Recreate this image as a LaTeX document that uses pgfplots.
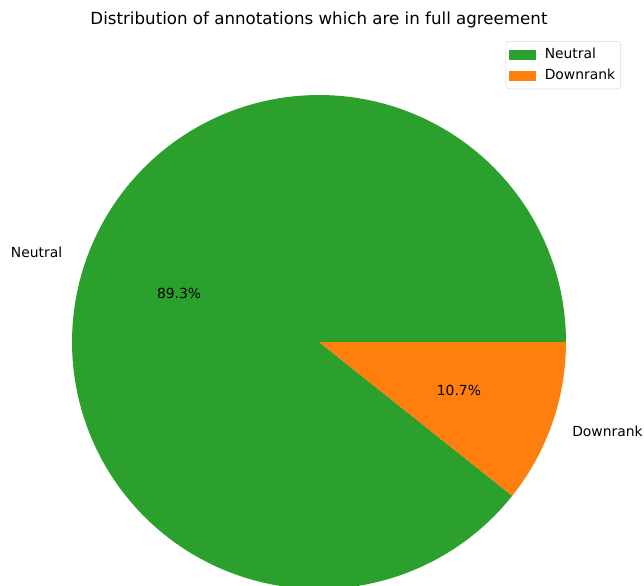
\documentclass[border=0pt]{standalone}
\usepackage{pgfplots}
\usepackage{pgfplotstable}
\pgfplotsset{compat=1.18}
\usepackage{fontspec}
\setmainfont{DejaVu Sans}

\definecolor{pgreen}{HTML}{2CA02C}
\definecolor{porange}{HTML}{FF7F0E}

% share of each slice, in percent
\pgfplotstableread{
label value
Neutral 89.3
Downrank 10.7
}\piedata
\pgfplotstablegetelem{0}{value}\of\piedata \let\vA\pgfplotsretval
\pgfplotstablegetelem{1}{value}\of\piedata \let\vB\pgfplotsretval
\pgfmathsetmacro\aEnd{3.6*\vA}
\pgfmathsetmacro\mA{\aEnd/2}
\pgfmathsetmacro\mB{\aEnd+1.8*\vB}

\begin{document}%
\begin{tikzpicture}
\begin{axis}[
    scale only axis,
    width=463.68pt, height=421.2pt,
    xmin=-1.2915, xmax=1.3158,
    ymin=-0.9838, ymax=1.3846,
    hide axis,
    clip=true,
    legend image code/.code={%
        \fill[#1, sharp corners] (0pt,-3.6pt) rectangle (20pt,3.6pt);
        \path (0pt,0pt) -- (24pt,0pt);},
    legend style={at={(0.9643,0.9299)}, anchor=north east,
        draw=black!15, rounded corners=2pt, fill=white,
        inner xsep=2pt, inner ysep=3pt, row sep=2pt,
        cells={anchor=west}, font=\fontsize{10pt}{12pt}\selectfont},
]
\addplot[fill=pgreen, draw=none, domain=0:\aEnd, samples=160]
    ({cos(x)}, {sin(x)}) -- (axis cs:0,0) -- cycle;
\addlegendentry{Neutral}
\addplot[fill=porange, draw=none, domain=\aEnd:360, samples=40]
    ({cos(x)}, {sin(x)}) -- (axis cs:0,0) -- cycle;
\addlegendentry{Downrank}

\node[anchor=east, inner sep=0pt] at (axis cs:{1.1*cos(\mA)},{1.1*sin(\mA)}) {Neutral};
\node[anchor=west, inner sep=0pt, xshift=-2.5pt] at (axis cs:{1.1*cos(\mB)},{1.1*sin(\mB)}) {Downrank};
\node at (axis cs:{0.6*cos(\mA)},{0.6*sin(\mA)}) {\vA\%};
\node at (axis cs:{0.6*cos(\mB)},{0.6*sin(\mB)}) {\vB\%};
\node[font=\fontsize{12pt}{14pt}\selectfont] at (rel axis cs:0.4953,0.9658)
    {Distribution of annotations which are in full agreement};
\end{axis}
\pgfresetboundingbox
\useasboundingbox (current axis.south west) rectangle (current axis.north east);
\end{tikzpicture}%
\end{document}
